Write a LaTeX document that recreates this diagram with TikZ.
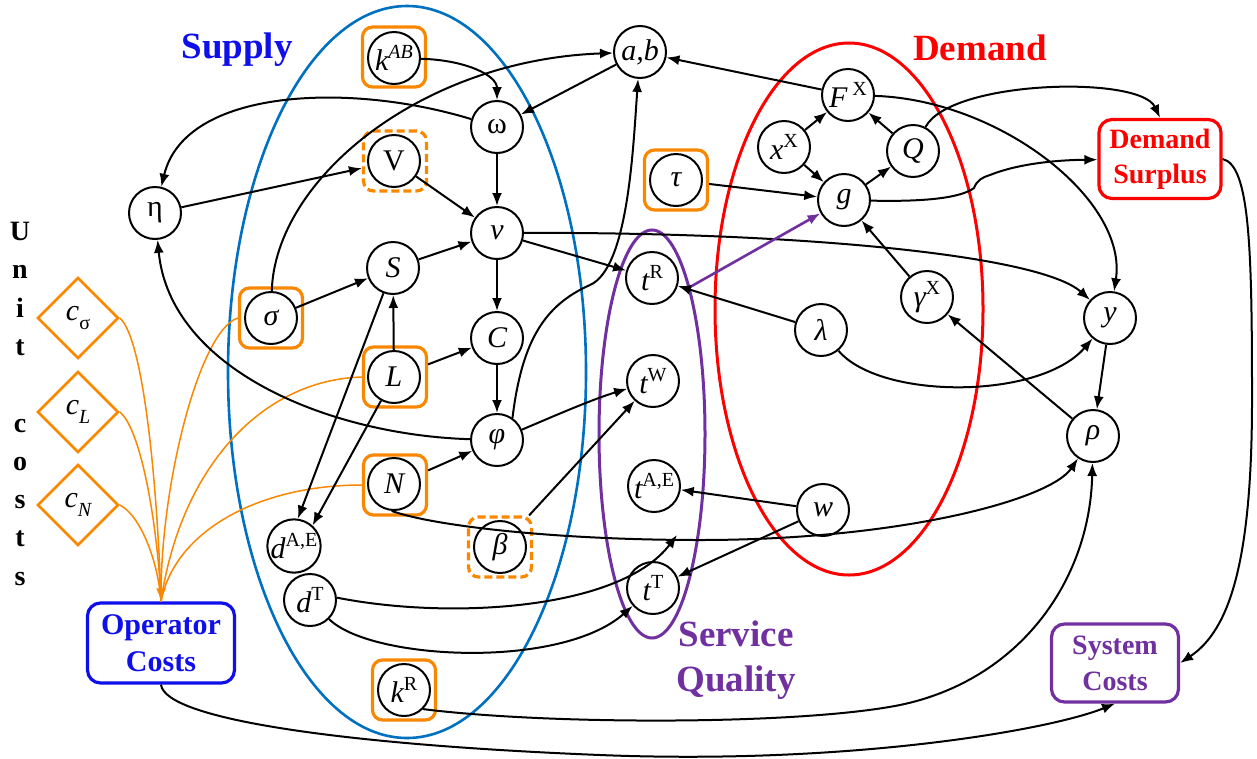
\documentclass[tikz,border=0pt]{standalone}
\usepackage{fontspec}
\setmainfont{Liberation Serif}
\usetikzlibrary{arrows.meta,shapes.geometric}
\definecolor{supblue}{RGB}{0,112,192}
\definecolor{txtblue}{RGB}{15,15,235}
\definecolor{myorange}{RGB}{250,135,0}
\definecolor{mypurple}{RGB}{112,48,160}
\definecolor{myred}{RGB}{255,0,0}
\newcommand{\supx}[1]{\raisebox{0.42em}{\fontsize{20}{20}\selectfont #1}}
\newcommand{\subx}[1]{\raisebox{-0.3em}{\fontsize{20}{20}\selectfont #1}}
\begin{document}
\begin{tikzpicture}[x=1pt,y=-1pt,
  var/.style={circle,draw=black,line width=2pt,fill=white,minimum size=52pt,inner sep=0pt,font=\fontsize{30}{30}\selectfont},
  obox/.style={rectangle,rounded corners=10pt,draw=myorange,line width=3.2pt,minimum width=63pt,minimum height=60pt,inner sep=0pt,fill=white},
  dbox/.style={obox,dash pattern=on 8pt off 4pt},
  cdia/.style={diamond,draw=myorange,line width=2.6pt,minimum width=81pt,minimum height=81pt,inner sep=0pt,fill=white,font=\fontsize{30}{30}\selectfont},
  arr/.style={line width=2pt,-{Latex[length=13pt,width=10pt]}},
  oln/.style={draw=myorange,line width=1.5pt},
  tbox/.style={rectangle,rounded corners=13pt,line width=3.2pt,fill=white,align=center,inner sep=0pt},
  grp/.style={font=\bfseries\fontsize{37}{45}\selectfont,align=center,inner sep=0pt}
]
\useasboundingbox (0,0) rectangle (1257,758);
\fill[white] (0,0) rectangle (1257,758);

% group ellipses
\draw[supblue,line width=2.6pt] (407,372) ellipse [x radius=179pt,y radius=366pt];
\draw[mypurple,line width=3pt] (652,434) ellipse [x radius=53pt,y radius=204pt];
\draw[myred,line width=3pt] (849,309) ellipse [x radius=134pt,y radius=266pt];

% group labels
\node[grp,text=txtblue,anchor=base] (supL) at (237,58) {Supply};
\node[grp,text=myred,anchor=base] (demL) at (980,60) {Demand};
\node[grp,text=mypurple] (sqL) at (736,660) {Service\\Quality};
\node[anchor=north,align=center,inner sep=0pt,font=\bfseries\fontsize{28}{38.3}\selectfont] (unit) at (20,222) {U\\n\\i\\t\\\mbox{}\\c\\o\\s\\t\\s};

% orange boxes
\node[obox] (kABb) at (394,57) {};
\node[dbox] (Vb) at (395,161) {};
\node[obox] (sigmab) at (271,318) {};
\node[obox] (Lb) at (395,377) {};
\node[obox] (Nb) at (395,485) {};
\node[obox] (taub) at (676,180) {};
\node[dbox] (betab) at (500,547) {};
\node[obox] (kRb) at (404,690) {};

% variables
\node[var] (kAB) at (394,58) {\itshape k\supx{AB}};
\node[var] (ab) at (640,52) {\itshape a,b};
\node[var] (omega) at (497,127) {ω};
\node[var] (V) at (394,161) {V};
\node[var] (v) at (497,233) {\itshape v};
\node[var] (eta) at (155,213) {η};
\node[var] (S) at (393,268) {\itshape S};
\node[var] (sigma) at (271,318) {\itshape σ};
\node[var] (L) at (394,377) {\itshape L};
\node[var] (N) at (394,484) {\itshape N};
\node[var] (C) at (497,338) {\itshape C};
\node[var] (phi) at (497,440) {\itshape φ};
\node[var] (tau) at (676,180) {\itshape τ};
\node[var] (FX) at (848,95) {\itshape F\,\supx{\upshape X}};
\node[var] (xX) at (784,147) {\itshape x\supx{\upshape X}};
\node[var] (Q) at (913,151) {\itshape Q};
\node[var] (g) at (844,200) {\itshape g};
\node[var] (gammaX) at (927,297) {\itshape γ\supx{\upshape X}};
\node[var] (y) at (1110,318) {\itshape y};
\node[var] (rho) at (1093,436) {\itshape ρ};
\node[var] (lambda) at (821,330) {\itshape λ};
\node[var] (w) at (823,510) {\itshape w};
\node[var] (tR) at (652,278) {\itshape t\supx{\upshape R}};
\node[var] (tW) at (653,381) {\itshape t\supx{\upshape W}};
\node[var] (tAE) at (654,486) {\itshape t\supx{\upshape A,E}};
\node[var] (tT) at (653,588) {\itshape t\supx{\upshape T}};
\node[var] (beta) at (500,547) {\itshape β};
\node[var] (kR) at (404,690) {\itshape k\supx{\upshape R}};
\node[var] (dAE) at (294,546) {\itshape d\supx{\upshape A,E}};
\node[var] (dT) at (310,600) {\itshape d\supx{\upshape T}};

% unit cost diamonds
\node[cdia] (cs) at (78,318) {\itshape c\subx{\upshape σ}};
\node[cdia] (cL) at (78,412) {\itshape c\subx{L}};
\node[cdia] (cN) at (78,505) {\itshape c\subx{N}};

% text boxes
\node[tbox,draw=myred,text=myred,minimum width=122pt,minimum height=79pt,font=\bfseries\fontsize{28}{35}\selectfont] (DS) at (1160,159) {Demand\\Surplus};
\node[tbox,draw=txtblue,text=txtblue,minimum width=147pt,minimum height=80pt,font=\bfseries\fontsize{30}{37}\selectfont] (OC) at (161,643) {Operator\\Costs};
\node[tbox,draw=mypurple,text=mypurple,minimum width=127pt,minimum height=78pt,font=\bfseries\fontsize{28}{36}\selectfont] (SC) at (1115,663) {System\\Costs};

\coordinate (sq) at (690,287);
\coordinate (dTend) at (677,535);

% orange cost lines
\draw[oln] (cs.east) .. controls (145,340) and (158,500) .. (OC.north);
\draw[oln] (cL.east) .. controls (142,430) and (158,530) .. (OC.north);
\draw[oln] (cN.east) .. controls (140,515) and (158,560) .. (OC.north);
\draw[oln] (Lb.west) .. controls (260,380) and (180,470) .. (OC.north);
\draw[oln] (Nb.west) .. controls (260,485) and (175,530) .. (OC.north);
\draw[oln,-{Latex[length=13pt,width=10pt]}] (sigmab.west) .. controls (200,330) and (162,480) .. (OC.north);

% black connectors
\draw[arr] (kAB) .. controls (465,60) and (497,75) .. (omega);
\draw[arr] (omega) .. controls (350,82) and (185,88) .. (eta);
\draw[arr] (ab) -- (omega);
\draw[arr] (FX) -- (ab);
\draw[arr] (sigma) .. controls (275,180) and (420,60) .. (ab);
\draw[arr] (phi.55) .. controls (522,340) and (545,305) .. (590,285) .. controls (628,268) and (633,150) .. (ab);
\draw[arr] (eta) -- (Vb);
\draw[arr] (V) -- (v);
\draw[arr] (omega) -- (v);
\draw[arr] (S) -- (v);
\draw[arr] (sigma) -- (S);
\draw[arr] (L) -- (S);
\draw[arr] (v) -- (C);
\draw[arr] (C) -- (phi);
\draw[arr] (Lb) -- (C);
\draw[arr] (Nb) -- (phi);
\draw[arr] (v) -- (tR);
\draw[arr] (v) .. controls (800,232) and (1040,255) .. (y);
\draw[arr] (FX) .. controls (1000,100) and (1128,200) .. (y);
\draw[arr,draw=mypurple,line width=2.6pt] (sq) -- (g);
\draw[arr] (taub) -- (g);
\draw[arr] (xX) -- (FX);
\draw[arr] (xX) -- (g);
\draw[arr] (Q) -- (FX);
\draw[arr] (g) -- (Q);
\draw[arr] (Q) .. controls (950,80) and (1140,75) .. (DS.north);
\draw[arr] (g) .. controls (930,202) and (962,197) .. (974,188) .. controls (977,180) and (983,177) .. (990,175) .. controls (1020,163) and (1060,160) .. (DS);
\draw[arr] (DS.east) .. controls (1250,165) and (1252,250) .. (1252,400) .. controls (1252,560) and (1230,630) .. (SC.east);
\draw[arr] (lambda) -- (tR);
\draw[arr] (lambda) .. controls (880,400) and (1040,400) .. (y);
\draw[arr] (rho) -- (gammaX);
\draw[arr] (gammaX) -- (g);
\draw[arr] (y) -- (rho);
\draw[arr] (phi) .. controls (545,420) and (590,400) .. (tW);
\draw[arr] (betab) -- (tW);
\draw[arr] (w) -- (tAE);
\draw[arr] (w) -- (tT);
\draw[arr] (N.-95) .. controls (430,525) and (550,540) .. (700,540) .. controls (900,540) and (1050,500) .. (rho);
\draw[arr] (kR.-45) .. controls (550,725) and (800,725) .. (900,705) .. controls (1020,680) and (1090,580) .. (rho);
\draw[arr] (OC.south) .. controls (165,720) and (350,745) .. (600,755) .. controls (850,765) and (1050,730) .. (SC.south);
\draw[arr] (dT.5) .. controls (450,620) and (620,610) .. (dTend);
\draw[arr] (dT) .. controls (370,660) and (560,670) .. (tT);
\draw[arr] (S) -- (dAE.82);
\draw[arr] (L) -- (dAE.48);
\draw[arr] (phi) .. controls (330,435) and (170,370) .. (eta);
\end{tikzpicture}
\end{document}
